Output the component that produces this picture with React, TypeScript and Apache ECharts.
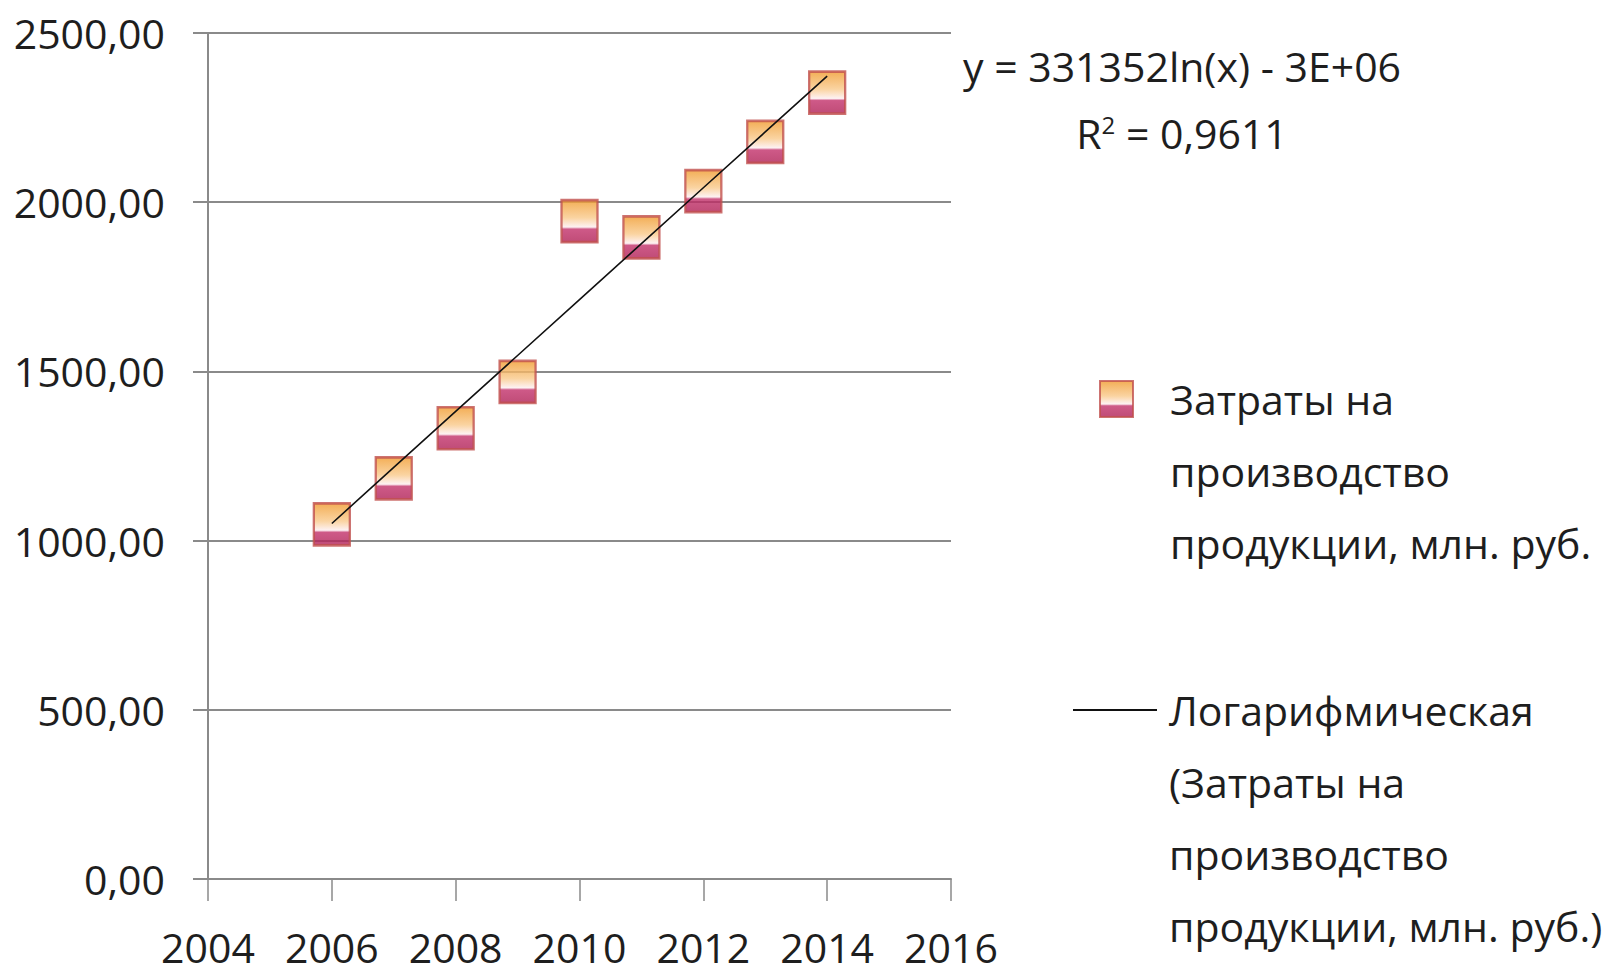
import React, { useEffect, useRef } from "react";
import * as echarts from "echarts";

const years = [2006, 2007, 2008, 2009, 2010, 2011, 2012, 2013, 2014];
const costs = [1048, 1184, 1332, 1469, 1944, 1896, 2033, 2178, 2324];
const xTicks = [2004, 2006, 2008, 2010, 2012, 2014, 2016];
const yTicks = [0, 500, 1000, 1500, 2000, 2500];
const seriesName = "Затраты на\nпроизводство\nпродукции, млн. руб.";
const trendName = "Логарифмическая\n(Затраты на\nпроизводство\nпродукции, млн. руб.)";
const equationText = "y = 331352ln(x) - 3E+06";
const r2Value = "0,9611";

const FONT = "'Open Sans', 'Noto Sans', sans-serif";
const FS = 41;

// least-squares logarithmic trendline (like the spreadsheet's trendline)
function logTrend(xs: number[], ys: number[]) {
  const lx = xs.map((x) => Math.log(x));
  const n = xs.length;
  const mx = lx.reduce((a, b) => a + b, 0) / n;
  const my = ys.reduce((a, b) => a + b, 0) / n;
  let sxy = 0;
  let sxx = 0;
  for (let i = 0; i < n; i++) {
    sxy += (lx[i] - mx) * (ys[i] - my);
    sxx += (lx[i] - mx) * (lx[i] - mx);
  }
  const a = sxy / sxx;
  const b = my - a * mx;
  return xs.map((x) => [x, a * Math.log(x) + b]);
}

// pad with leading blank lines so the first real line sits beside the legend icon
function firstLineOnIcon(name: string) {
  const n = name.split("\n").length;
  return "\n".repeat(n - 1) + name;
}

export default function App() {
  const ref = useRef<HTMLDivElement>(null);
  useEffect(() => {
    if (!ref.current) return;
    const chart = echarts.init(ref.current, undefined, { renderer: "svg" });
    const gray = "#8a8a8a";
    const markerFill = new echarts.graphic.LinearGradient(0, 0, 0, 1, [
      { offset: 0, color: "#f09a2c" },
      { offset: 0.42, color: "#f9c98a" },
      { offset: 0.64, color: "#fdeef0" },
      { offset: 0.69, color: "#c2306a" },
      { offset: 1, color: "#b01f55" },
    ]);
    const legendText = {
      fontSize: FS,
      lineHeight: 72,
      fontFamily: FONT,
      color: "#1e1e1e",
    };
    chart.setOption({
      animation: false,
      backgroundColor: "#ffffff",
      grid: {
        left: 208,
        right: 655,
        top: 33,
        bottom: 97,
        containLabel: false,
        outerBoundsMode: "none",
      },
      xAxis: {
        type: "value",
        min: xTicks[0],
        max: xTicks[xTicks.length - 1],
        interval: 2,
        axisLine: { show: true, lineStyle: { color: gray, width: 2 } },
        axisTick: { show: true, length: 22, lineStyle: { color: gray, width: 1.5 } },
        splitLine: { show: false },
        axisLabel: {
          margin: 48,
          fontSize: FS,
          lineHeight: 40,
          fontFamily: FONT,
          color: "#1e1e1e",
          formatter: (v: number) => String(v),
        },
      },
      yAxis: {
        type: "value",
        min: yTicks[0],
        max: yTicks[yTicks.length - 1],
        interval: 500,
        axisLine: { show: true, lineStyle: { color: gray, width: 2 } },
        axisTick: { show: true, length: 15, lineStyle: { color: gray, width: 2 } },
        splitLine: { show: true, lineStyle: { color: gray, width: 2 } },
        axisLabel: {
          margin: 43,
          fontSize: FS,
          fontFamily: FONT,
          color: "#1e1e1e",
          formatter: (v: number) => v.toFixed(2).replace(".", ","),
        },
      },
      legend: [
        {
          data: [seriesName],
          orient: "vertical",
          left: 1094,
          top: 214,
          itemWidth: 33,
          itemHeight: 36,
          formatter: firstLineOnIcon,
          textStyle: { ...legendText, padding: [0, 0, 0, 32] },
        },
        {
          data: [{ name: trendName, icon: "rect" }],
          orient: "vertical",
          left: 1068,
          top: 453,
          itemWidth: 84,
          itemHeight: 2,
          formatter: firstLineOnIcon,
          textStyle: { ...legendText, padding: [0, 0, 0, 7] },
        },
      ],
      graphic: [
        {
          type: "text",
          x: 1182,
          y: 66,
          style: {
            text: equationText,
            fontSize: FS,
            fontFamily: FONT,
            fill: "#1e1e1e",
            align: "center",
            verticalAlign: "middle",
          },
        },
        {
          type: "text",
          x: 1182,
          y: 133,
          style: {
            text: "R{sup|2} = " + r2Value,
            fontSize: FS,
            fontFamily: FONT,
            fill: "#1e1e1e",
            align: "center",
            verticalAlign: "middle",
            rich: {
              sup: {
                fontSize: 24,
                fontFamily: FONT,
                fill: "#1e1e1e",
                verticalAlign: "top",
              },
            },
          },
        },
      ],
      series: [
        {
          name: seriesName,
          type: "scatter",
          symbol: "rect",
          symbolSize: [36, 42],
          data: years.map((y, i) => [y, costs[i]]),
          itemStyle: {
            color: markerFill,
            borderColor: "#c0504d",
            borderWidth: 2.5,
          },
          z: 2,
        },
        {
          name: trendName,
          type: "line",
          symbol: "none",
          data: logTrend(years, costs),
          lineStyle: { color: "#111111", width: 1.6 },
          itemStyle: { color: "#111111" },
          z: 3,
        },
      ],
    });
    return () => chart.dispose();
  }, []);
  return (
    <div
      ref={ref}
      style={{ position: "absolute", left: 0, top: 0, width: 1606, height: 976, background: "#fff" }}
    />
  );
}
